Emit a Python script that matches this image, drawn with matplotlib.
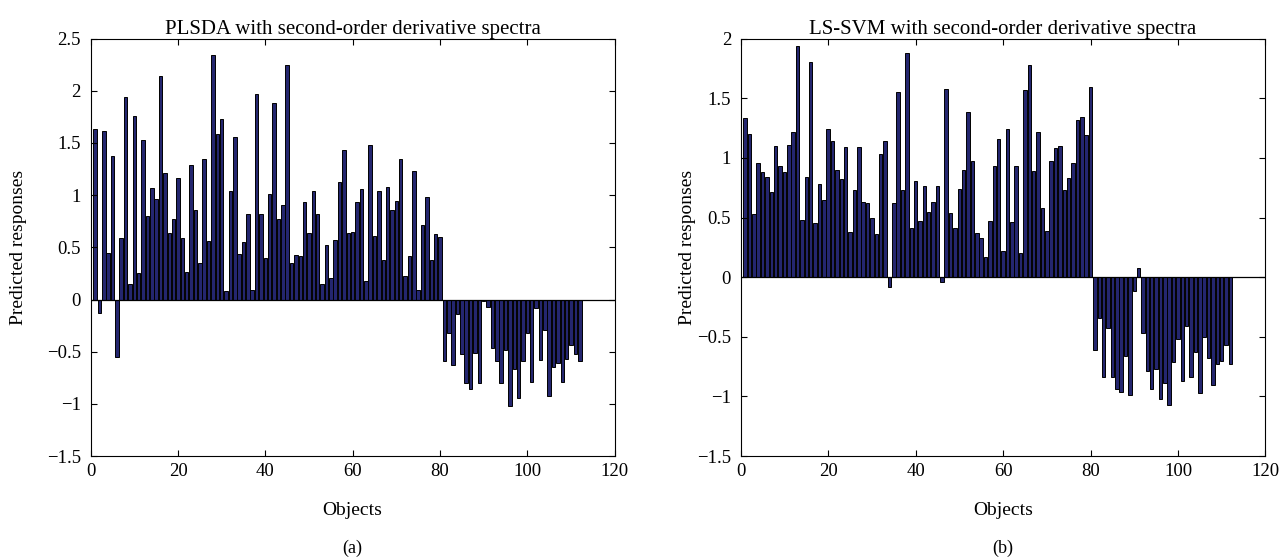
import matplotlib

matplotlib.use("Agg")
import matplotlib.pyplot as plt  # noqa: E402
import numpy as np  # noqa: E402

plt.rcParams["font.family"] = ["Liberation Serif", "DejaVu Serif"]

# predicted responses per object
plsda_values = [
    1.63, -0.13, 1.61, 0.45, 1.37, -0.55, 0.59, 1.94, 0.15, 1.76,
    0.25, 1.53, 0.80, 1.07, 0.96, 2.14, 1.21, 0.64, 0.77, 1.16,
    0.59, 0.26, 1.29, 0.86, 0.35, 1.35, 0.56, 2.34, 1.59, 1.73,
    0.08, 1.04, 1.56, 0.44, 0.55, 0.82, 0.09, 1.97, 0.82, 0.40,
    1.01, 1.88, 0.77, 0.91, 2.25, 0.35, 0.43, 0.42, 0.93, 0.64,
    1.04, 0.82, 0.15, 0.52, 0.21, 0.57, 1.13, 1.43, 0.64, 0.65,
    0.93, 1.06, 0.18, 1.48, 0.61, 1.04, 0.38, 1.08, 0.86, 0.94,
    1.35, 0.23, 0.42, 1.23, 0.09, 0.71, 0.98, 0.38, 0.63, 0.60,
    -0.59, -0.32, -0.63, -0.14, -0.52, -0.80, -0.86, -0.51, -0.80, -0.01,
    -0.07, -0.46, -0.59, -0.80, -0.48, -1.02, -0.67, -0.94, -0.59, -0.32,
    -0.79, -0.08, -0.58, -0.29, -0.92, -0.65, -0.61, -0.79, -0.57, -0.44,
    -0.52, -0.59,
]

lssvm_values = [
    1.33, 1.20, 0.53, 0.96, 0.88, 0.84, 0.71, 1.10, 0.93, 0.88,
    1.11, 1.22, 1.94, 0.48, 0.84, 1.80, 0.45, 0.78, 0.65, 1.24,
    1.14, 0.90, 0.82, 1.09, 0.38, 0.73, 1.09, 0.63, 0.62, 0.50,
    0.36, 1.03, 1.14, -0.08, 0.62, 1.55, 0.73, 1.88, 0.41, 0.81,
    0.47, 0.76, 0.55, 0.63, 0.76, -0.04, 1.58, 0.54, 0.41, 0.74,
    0.90, 1.38, 0.97, 0.37, 0.33, 0.17, 0.47, 0.93, 1.16, 0.22,
    1.24, 0.46, 0.93, 0.20, 1.57, 1.78, 0.89, 1.22, 0.58, 0.39,
    0.97, 1.08, 1.10, 0.73, 0.83, 0.96, 1.32, 1.34, 1.19, 1.59,
    -0.61, -0.34, -0.84, -0.43, -0.84, -0.94, -0.96, -0.66, -0.99, -0.12,
    0.08, -0.47, -0.79, -0.94, -0.77, -1.02, -0.89, -1.07, -0.71, -0.52,
    -0.87, -0.41, -0.84, -0.63, -0.97, -0.50, -0.68, -0.90, -0.73, -0.70,
    -0.57, -0.73,
]

titles = [
    "PLSDA with second-order derivative spectra",
    "LS-SVM with second-order derivative spectra",
]
captions = ["(a)", "(b)"]
y_limits = [(-1.5, 2.5), (-1.5, 2.0)]
ylabel_x = [-0.122, -0.086]
x_ticks = [0, 20, 40, 60, 80, 100, 120]

fig = plt.figure(figsize=(12.86, 5.58), dpi=100)
ax_left = fig.add_axes([0.0705, 0.1825, 0.4075, 0.7485])
ax_right = fig.add_axes([0.576, 0.1825, 0.4080, 0.7485])

panels = zip([ax_left, ax_right], [plsda_values, lssvm_values], titles, captions, y_limits, ylabel_x)
for ax, values, title, caption, ylim, lab_x in panels:
    objects = np.arange(1, len(values) + 1)
    ax.bar(objects, values, width=0.8, color="#24266f", edgecolor="black", linewidth=0.7)
    ax.axhline(0, color="black", linewidth=0.9)
    ax.set_xlim(0, 120)
    ax.set_ylim(*ylim)
    ax.set_xticks(x_ticks)
    ax.set_yticks(np.arange(ylim[0], ylim[1] + 0.01, 0.5))
    ax.yaxis.set_major_formatter(plt.FuncFormatter(lambda v, _: f"{v:g}".replace("-", "\u2212")))
    ax.tick_params(direction="in", top=True, right=True, labelsize=13.5, length=4, width=0.8)
    ax.tick_params(axis="x", pad=5)
    ax.tick_params(axis="y", pad=7)
    for spine in ax.spines.values():
        spine.set_linewidth(0.8)
    ax.set_title(title, fontsize=15, pad=3)
    ax.set_xlabel("Objects", fontsize=14, labelpad=16)
    ax.set_ylabel("Predicted responses", fontsize=14)
    ax.yaxis.set_label_coords(lab_x, 0.5)
    box = ax.get_position()
    fig.text(box.x0 + box.width / 2, 1 - 548 / 558, caption, ha="center", va="center", fontsize=13)

fig.savefig("out.png", dpi=100)
plt.close(fig)
